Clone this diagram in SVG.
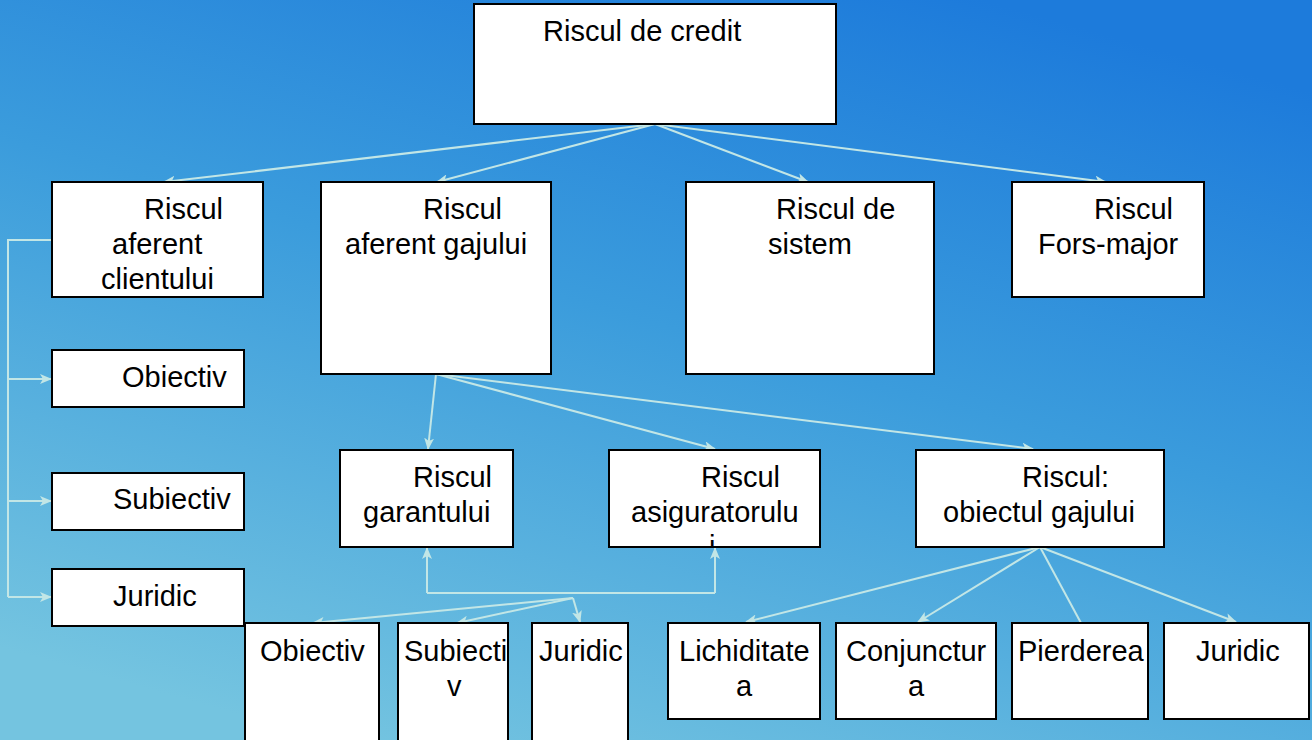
<svg xmlns="http://www.w3.org/2000/svg" width="1312" height="740" viewBox="0 0 1312 740">
<defs>
<linearGradient id="bg" x1="0.75" y1="0" x2="0.25" y2="1">
<stop offset="0" stop-color="#1d7bdb"/>
<stop offset="0.45" stop-color="#3b9cdc"/>
<stop offset="1" stop-color="#74c4e0"/>
</linearGradient>
<marker id="ar" markerWidth="12" markerHeight="10" refX="11" refY="5" orient="auto" markerUnits="userSpaceOnUse">
<path d="M0,0 L12,5 L0,10 L3,5 z" fill="#c2e6e6"/>
</marker>
<clipPath id="clipAsig"><rect x="609" y="450" width="211" height="97"/></clipPath>
</defs>
<style>
.box{fill:#fff;stroke:#000;stroke-width:2}
text{font-family:"Liberation Sans",Arial,sans-serif;font-size:29px;fill:#000}
.c{fill:none;stroke:#c2e6e6;stroke-width:2}
.a{marker-end:url(#ar)}
</style>
<rect width="1312" height="740" fill="url(#bg)"/>
<g id="connectors">
<path class="c a" d="M655,124 L164,182"/>
<path class="c a" d="M655,124 L437,182"/>
<path class="c a" d="M655,124 L808,182"/>
<path class="c a" d="M655,124 L1106,182"/>
<path class="c" d="M52,240 L8,240 L8,597"/>
<path class="c a" d="M8,379 L51,379"/>
<path class="c a" d="M8,501 L51,501"/>
<path class="c a" d="M8,597 L51,597"/>
<path class="c a" d="M436,374 L428,449"/>
<path class="c a" d="M436,374 L715,449"/>
<path class="c a" d="M436,374 L1033,449"/>
<path class="c a" d="M427,593 L427,548"/>
<path class="c" d="M427,593 L715,593"/>
<path class="c a" d="M715,593 L715,548"/>
<path class="c a" d="M573,598 L313,623"/>
<path class="c a" d="M573,598 L457,623"/>
<path class="c a" d="M573,598 L580,622"/>
<path class="c a" d="M1040,547 L746,622"/>
<path class="c a" d="M1040,547 L918,622"/>
<path class="c" d="M1040,547 L1081,623"/>
<path class="c a" d="M1040,547 L1236,622"/>
</g>
<g id="n-credit"><rect class="box" x="474" y="4" width="362" height="120"/><text x="543" y="41">Riscul de credit</text></g>
<g id="n-client"><rect class="box" x="52" y="182" width="211" height="115"/><text x="144" y="219">Riscul</text><text x="112" y="254">aferent</text><text x="101" y="289">clientului</text></g>
<g id="n-gaj"><rect class="box" x="321" y="182" width="230" height="192"/><text x="423" y="219">Riscul</text><text x="345" y="254">aferent gajului</text></g>
<g id="n-sistem"><rect class="box" x="686" y="182" width="248" height="192"/><text x="776" y="219">Riscul de</text><text x="768" y="254">sistem</text></g>
<g id="n-fors"><rect class="box" x="1012" y="182" width="192" height="115"/><text x="1094" y="219">Riscul</text><text x="1038" y="254">Fors-major</text></g>
<g id="n-obiectiv1"><rect class="box" x="52" y="350" width="192" height="57"/><text x="122" y="387">Obiectiv</text></g>
<g id="n-subiectiv1"><rect class="box" x="52" y="473" width="192" height="57"/><text x="113" y="509">Subiectiv</text></g>
<g id="n-juridic1"><rect class="box" x="52" y="569" width="192" height="57"/><text x="113" y="606">Juridic</text></g>
<g id="n-garant"><rect class="box" x="340" y="450" width="173" height="97"/><text x="413" y="487">Riscul</text><text x="363" y="522">garantului</text></g>
<g id="n-asig"><rect class="box" x="609" y="450" width="211" height="97"/><text x="701" y="487">Riscul</text><text x="631" y="522">asiguratorulu</text><text x="709" y="556" clip-path="url(#clipAsig)">i</text><rect x="609" y="450" width="211" height="97" fill="none" stroke="#000" stroke-width="2"/></g>
<g id="n-obiect"><rect class="box" x="916" y="450" width="248" height="97"/><text x="1022" y="487">Riscul:</text><text x="943" y="522">obiectul gajului</text></g>
<g id="n-obiectiv2"><rect class="box" x="245" y="623" width="134" height="120"/><text x="260" y="661">Obiectiv</text></g>
<g id="n-subiectiv2"><rect class="box" x="398" y="623" width="110" height="120"/><text x="404" y="661">Subiecti</text><text x="447" y="696">v</text></g>
<g id="n-juridic2"><rect class="box" x="532" y="623" width="96" height="120"/><text x="539" y="661">Juridic</text></g>
<g id="n-lichid"><rect class="box" x="668" y="623" width="152" height="96"/><text x="679" y="661">Lichiditate</text><text x="736" y="696">a</text></g>
<g id="n-conj"><rect class="box" x="836" y="623" width="160" height="96"/><text x="846" y="661">Conjunctur</text><text x="908" y="696">a</text></g>
<g id="n-pierd"><rect class="box" x="1012" y="623" width="136" height="96"/><text x="1018" y="661">Pierderea</text></g>
<g id="n-juridic3"><rect class="box" x="1164" y="623" width="145" height="96"/><text x="1196" y="661">Juridic</text></g>
</svg>
